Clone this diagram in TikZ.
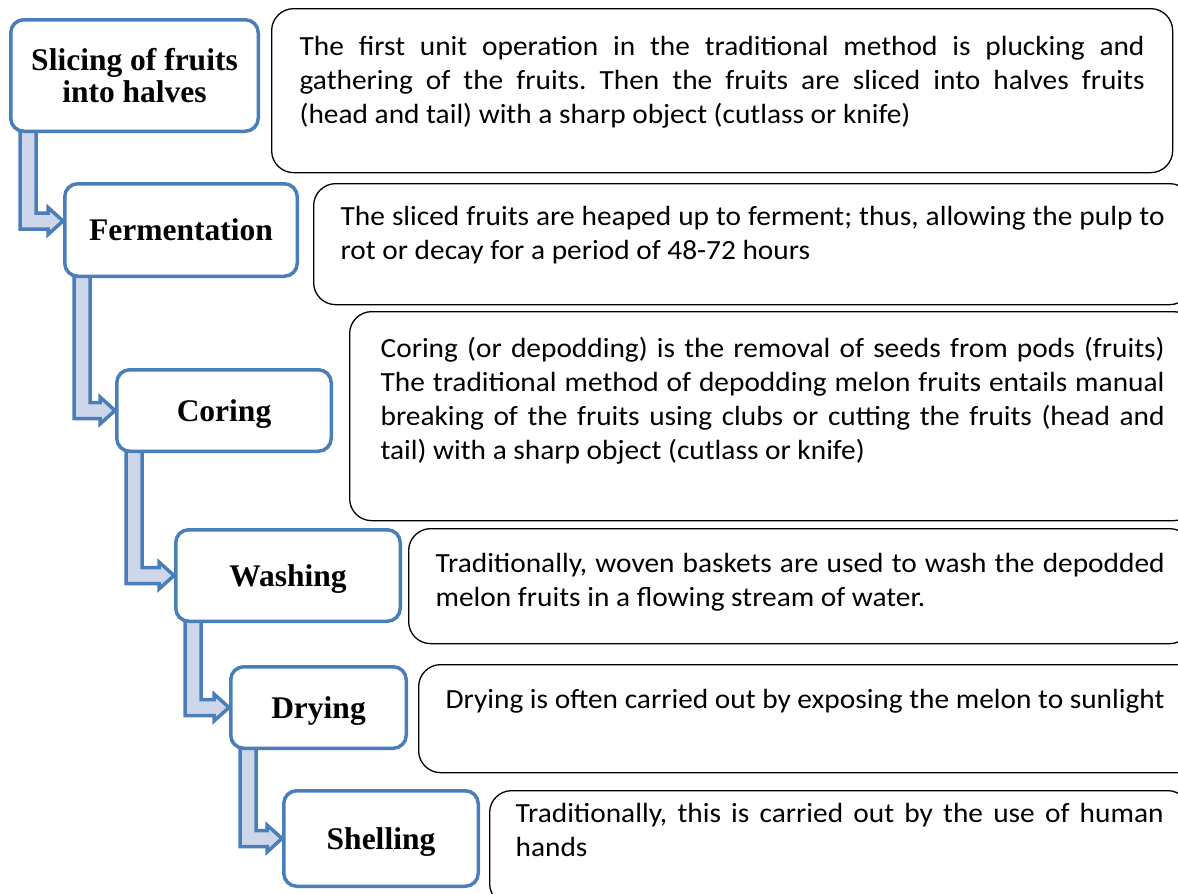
\documentclass[tikz,border=0pt]{standalone}
\usepackage{fontspec}
\setmainfont{Carlito}[FakeStretch=1.06]
\newfontfamily\headfont{Liberation Serif}
\usetikzlibrary{calc, backgrounds}

\definecolor{stepblue}{RGB}{74,126,187}
\definecolor{arrowfill}{RGB}{206,215,234}

\tolerance=9999
\frenchspacing

% bent block arrow from the bottom of one step into the side of the next
\newcommand{\steparrow}[2]{%
  \path[arrowbody] let \p1=($(#1.south west)+(19,-4)$), \p2=(#2) in
    (\x1-8pt,\y1) -- (\x1-8pt,\y2-8pt) -- (\x2-15pt,\y2-8pt) -- (\x2-15pt,\y2-13.5pt)
    -- (\x2,\y2) -- (\x2-15pt,\y2+13.5pt) -- (\x2-15pt,\y2+8pt) -- (\x1+8pt,\y2+8pt)
    -- (\x1+8pt,\y1);}

\begin{document}
\begin{tikzpicture}[%
    x=1pt, y=-1pt,
    stepbox/.style={draw=stepblue, line width=3.5pt, rounded corners=13pt,
      fill=white, align=center, inner sep=0pt, text depth=0pt,
      font=\headfont\bfseries\fontsize{31.5}{32}\selectfont},
    notebox/.style={draw, line width=1.3pt, rounded corners=22pt, fill=white,
      anchor=north west, align=justify, inner ysep=0pt,
      font=\fontsize{27.7}{34}\selectfont},
    arrowbody/.style={fill=arrowfill, draw=stepblue, line width=3.5pt}
  ]
  \useasboundingbox (0,0) rectangle (1178,894);

  \node[stepbox, minimum width=247.5, minimum height=111.5] (slice) at (134.5,75.5) {Slicing of fruits\\into halves};
  \node[stepbox, minimum width=232.5, minimum height=92.5] (ferment) at (181,230) {Fermentation};
  \node[stepbox, minimum width=214.5, minimum height=81.5] (coring) at (224,410.5) {Coring};
  \node[stepbox, minimum width=224.5, minimum height=91.5] (washing) at (288,575.5) {Washing};
  \node[stepbox, minimum width=175.5, minimum height=81.5] (drying) at (318.5,707.5) {Drying};
  \node[stepbox, minimum width=194.5, minimum height=95.5] (shelling) at (381,838.5) {Shelling};

  \node[notebox, inner xsep=28pt, text width=845pt, text height=47pt, text depth=117pt] (slicenote) at (271,8)
    {The first unit operation in the traditional method is plucking and\linebreak
     gathering of the fruits. Then the fruits are sliced into halves fruits\linebreak
     (head and tail) with a sharp object (cutlass or knife)};
  \node[notebox, inner xsep=27pt, text width=824pt, text height=42pt, text depth=79pt] (fermentnote) at (313,183)
    {The sliced fruits are heaped up to ferment; thus, allowing the pulp to\linebreak
     rot or decay for a period of 48-72 hours};
  \node[notebox, inner xsep=31pt, text width=784pt, text height=46pt, text depth=163pt] (coringnote) at (349,311)
    {Coring (or depodding) is the removal of seeds from pods (fruits)\linebreak
     The traditional method of depodding melon fruits entails manual\linebreak
     breaking of the fruits using clubs or cutting the fruits (head and\linebreak
     tail) with a sharp object (cutlass or knife)};
  \node[notebox, inner xsep=27pt, text width=729pt, text height=44pt, text depth=71pt] (washingnote) at (408,528)
    {Traditionally, woven baskets are used to wash the depodded\linebreak
     melon fruits in a flowing stream of water.};
  \node[notebox, inner xsep=27pt, text width=730pt, text height=44pt, text depth=64pt] (dryingnote) at (418,664)
    {Drying is often carried out by exposing the melon to sunlight};
  \node[notebox, inner xsep=26pt, text width=648pt, text height=32pt, text depth=83pt] (shellingnote) at (489,790)
    {Traditionally, this is carried out by the use of human\linebreak
     hands};

  \begin{scope}[on background layer]
    \steparrow{slice}{$(ferment.west)+(0,-9)$}
    \steparrow{ferment}{coring.west}
    \steparrow{coring}{washing.west}
    \steparrow{washing}{drying.west}
    \steparrow{drying}{shelling.west}
  \end{scope}
\end{tikzpicture}
\end{document}
